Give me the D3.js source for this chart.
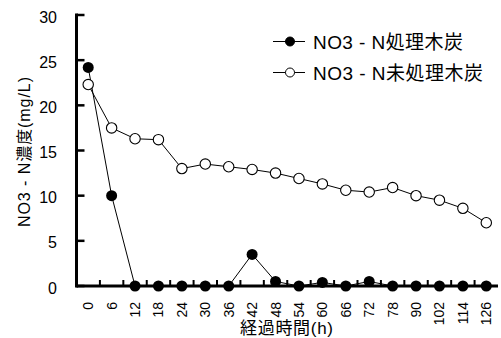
<!DOCTYPE html>
<html>
<head>
<meta charset="utf-8">
<script src="https://cdn.jsdelivr.net/npm/d3@7"></script>
<style>
  html, body { margin: 0; padding: 0; background: #fff; }
  svg { display: block; font-family: "Liberation Sans", Arial, "Noto Sans CJK JP", sans-serif; }
</style>
</head>
<body>
<svg id="chart" width="501" height="338"></svg>
<script>
// elapsed time (h)
const hours = ["0","6","12","18","24","30","36","42","48","54","60","66","72","78","90","102","114","126"];
// NO3-N concentration (mg/L), treated charcoal
const treated = [24.2, 10.0, 0, 0, 0, 0, 0, 3.5, 0.5, 0, 0.4, 0, 0.5, 0, 0, 0, 0, 0];
// NO3-N concentration (mg/L), untreated charcoal
const untreated = [22.3, 17.5, 16.3, 16.2, 13.0, 13.5, 13.2, 12.9, 12.5, 11.9, 11.3, 10.6, 10.4, 10.9, 10.0, 9.5, 8.6, 7.0];
const yTicks = [0, 5, 10, 15, 20, 25, 30];
const seriesNames = ["NO3 - N処理木炭", "NO3 - N未処理木炭"];

const svg = d3.select("#chart");
const plotLeft = 76.5, plotRight = 498, plotTop = 15, plotBottom = 286;

const x = d3.scaleBand().domain(hours).range([plotLeft, plotRight]).padding(0);
const y = d3.scaleLinear().domain([0, 30]).range([plotBottom, plotTop]);
const cx = h => x(h) + x.bandwidth() / 2;

// series lines
const line = d3.line().x((d, i) => cx(hours[i])).y(d => y(d));
svg.append("path").datum(treated).attr("d", line)
  .attr("fill", "none").attr("stroke", "#000").attr("stroke-width", 1);
svg.append("path").datum(untreated).attr("d", line)
  .attr("fill", "none").attr("stroke", "#000").attr("stroke-width", 1);

// x axis: ticks between categories, pointing up
const xAxis = svg.append("g");
xAxis.append("line").attr("x1", plotLeft).attr("x2", plotRight).attr("y1", plotBottom).attr("y2", plotBottom)
  .attr("stroke", "#000").attr("stroke-width", 3);
xAxis.selectAll("line.tk").data(hours.slice(1)).join("line").attr("class", "tk")
  .attr("x1", d => x(d)).attr("x2", d => x(d)).attr("y1", plotBottom).attr("y2", plotBottom - 6)
  .attr("stroke", "#000").attr("stroke-width", 2);
xAxis.selectAll("text").data(hours).join("text")
  .attr("transform", d => `translate(${cx(d) + 5},302) rotate(-90)`)
  .attr("text-anchor", "end").attr("font-size", 14).text(d => d);

// y axis: ticks pointing right
const yAxis = svg.append("g");
yAxis.append("line").attr("x1", plotLeft).attr("x2", plotLeft).attr("y1", plotTop - 1.5).attr("y2", plotBottom + 1.5)
  .attr("stroke", "#000").attr("stroke-width", 3);
yAxis.selectAll("line.tk").data(yTicks).join("line").attr("class", "tk")
  .attr("x1", plotLeft).attr("x2", plotLeft + 8).attr("y1", d => y(d)).attr("y2", d => y(d))
  .attr("stroke", "#000").attr("stroke-width", 2.5);
yAxis.selectAll("text").data(yTicks).join("text")
  .attr("x", 57).attr("y", d => y(d) + 7.5).attr("text-anchor", "end")
  .attr("font-size", 16).text(d => d);

// markers
svg.selectAll("circle.t").data(treated).join("circle").attr("class", "t")
  .attr("cx", (d, i) => cx(hours[i])).attr("cy", d => y(d)).attr("r", 5.5)
  .attr("fill", "#000");
svg.selectAll("circle.u").data(untreated).join("circle").attr("class", "u")
  .attr("cx", (d, i) => cx(hours[i])).attr("cy", d => y(d)).attr("r", 5.2)
  .attr("fill", "#fff").attr("stroke", "#000").attr("stroke-width", 1.1);

// axis titles
svg.append("text").attr("x", 240).attr("y", 334)
  .attr("font-size", 17).attr("textLength", 93).attr("lengthAdjust", "spacing")
  .text("経過時間(h)");
svg.append("text").attr("transform", "translate(30,227) rotate(-90)")
  .attr("font-size", 16).attr("textLength", 150).attr("lengthAdjust", "spacing")
  .text("NO3 - N濃度(mg/L)");

// legend
const legend = svg.append("g");
const legendLen = [150, 170];
[0, 1].forEach(i => {
  const ly = 41.5 + i * 31;
  legend.append("line").attr("x1", 273).attr("x2", 305).attr("y1", ly).attr("y2", ly)
    .attr("stroke", "#000").attr("stroke-width", 1);
  legend.append("circle").attr("cx", 290).attr("cy", ly).attr("r", 4.5)
    .attr("fill", i === 0 ? "#000" : "#fff").attr("stroke", "#000").attr("stroke-width", 1);
  legend.append("text").attr("x", 313).attr("y", ly + 7).attr("font-size", 19)
    .attr("textLength", legendLen[i]).attr("lengthAdjust", "spacing")
    .text(seriesNames[i]);
});
</script>
</body>
</html>
